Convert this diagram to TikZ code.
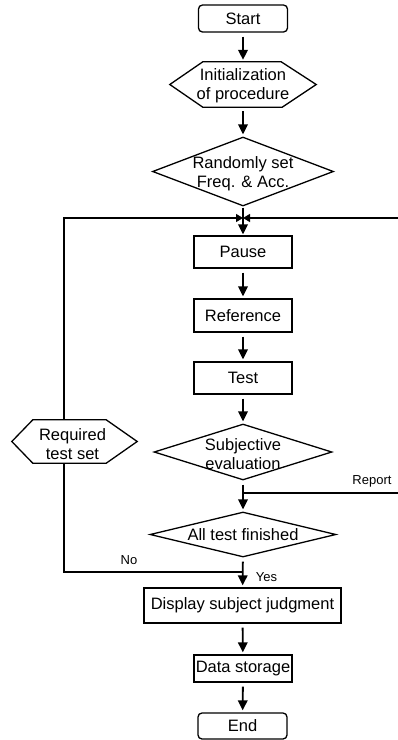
\documentclass[tikz,border=0pt]{standalone}
\usepackage{fontspec}
\setmainfont{Liberation Sans}
\usetikzlibrary{shapes.geometric,arrows.meta,calc}
\begin{document}
\begin{tikzpicture}[x=1pt,y=-1pt,
  every node/.style={font=\fontsize{16.5}{19}\selectfont},
  box/.style={draw, line width=1.3pt, inner sep=0pt},
  rbox/.style={box, rounded corners=4pt},
  dia/.style={diamond, draw, line width=1.3pt, inner sep=0pt},
  hexbox/.style={inner sep=0pt},
  txt/.style={align=center, inner sep=0pt},
  lbl/.style={font=\fontsize{13}{15}\selectfont, inner sep=0pt},
  ln/.style={line width=1.3pt},
  arr/.style={line width=1.9pt, -{Triangle[length=10pt,width=9.5pt]}, shorten <=4pt, shorten >=2pt},
  jarr/.style={line width=1.3pt, -{Triangle[length=7pt,width=8pt]}}]
\useasboundingbox (0,0) rectangle (398,740);

% main column
\node[rbox, minimum width=89pt, minimum height=27pt] (start) at (243,18.5) {Start};
\node[hexbox, minimum width=146pt, minimum height=45pt] (init) at (243,84.5) {};
\draw[ln] (init.west) -- ($(init.north west)+(33,0)$) -- ($(init.north east)+(-35,0)$) -- (init.east)
  -- ($(init.south east)+(-34,0)$) -- ($(init.south west)+(33,0)$) -- cycle;
\node[txt] at (243,86) {Initialization\\of procedure};

\node[dia, minimum width=181pt, minimum height=69pt] (rand) at (243,171.5) {};
\node[txt] at (243,174) {Randomly set\\Freq. \& Acc.};

\node[box, minimum width=98pt, minimum height=32pt] (pause) at (243,252) {Pause};
\node[box, minimum width=98pt, minimum height=33pt] (ref) at (243,315.5) {Reference};
\node[box, minimum width=98pt, minimum height=32pt] (test) at (243,378) {Test};

\node[dia, minimum width=178pt, minimum height=56pt] (subj) at (243,452) {};
\node[txt] at (243,454) {Subjective\\evaluation};

\node[dia, minimum width=186pt, minimum height=45pt] (all) at (243,534.5) {};
\node[txt] at (243,535) {All test finished};

\node[box, minimum width=197pt, minimum height=35pt] (disp) at (242.5,605.5) {Display subject judgment};
\node[box, minimum width=98pt, minimum height=27pt] (data) at (243,668.5) {Data storage};
\node[rbox, minimum width=89pt, minimum height=26pt] (end) at (242.5,726) {End};

% side hexagon
\node[hexbox, minimum width=125pt, minimum height=43pt] (req) at (74.5,441.5) {};
\draw[ln] (req.west) -- ($(req.north west)+(21,0)$) -- ($(req.north east)+(-31,0)$) -- (req.east)
  -- ($(req.south east)+(-31,0)$) -- ($(req.south west)+(21,0)$) -- cycle;
\node[txt] at (72.5,444) {Required\\test set};

% junction points
\coordinate (j1) at (243,218);
\coordinate (j2) at (243,493);
\coordinate (j3) at (243,572);
\coordinate (cl1) at (64,218);
\coordinate (cl3) at (64,572);
\coordinate (cr1) at (398,218);
\coordinate (cr2) at (398,493);

% main arrows
\draw[arr] (start) -- (init);
\draw[arr] (init) -- (rand);
\draw[line width=1.9pt, -{Triangle[length=10pt,width=9.5pt]}, shorten <=1pt, shorten >=1pt] (rand.south) -- (pause.north);
\draw[arr] (pause) -- (ref);
\draw[arr] (ref) -- (test);
\draw[arr] (test) -- (subj);
\draw[arr] (subj) -- (all);
\draw[arr] (all) -- (disp);
\draw[arr] (disp) -- (data);
\draw[arr] (data) -- (end);

% loop back
\draw[ln] (j3) -- (cl3) -- (cl3 |- req.south);
\draw[jarr] (cl3 |- req.north) -- (cl1) -- (j1);
\draw[jarr] (cr1) -- (j1);

% report
\draw[ln] (j2) -- (cr2);

% labels
\node[lbl] (lreport) at (372,481) {Report};
\node[lbl] (lno) at (129,560) {No};
\node[lbl] (lyes) at (266.5,577) {Yes};
\end{tikzpicture}
\end{document}
